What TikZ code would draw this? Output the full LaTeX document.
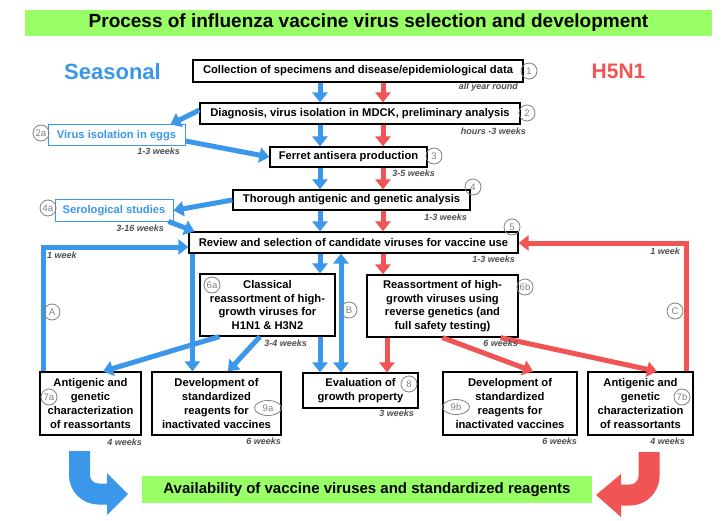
\documentclass[tikz,border=0pt]{standalone}
\usepackage{fontspec}
\setmainfont{Liberation Sans}
\usetikzlibrary{arrows.meta,shapes.geometric,calc}
\definecolor{sblue}{RGB}{59,151,234}
\definecolor{hred}{RGB}{240,84,84}
\definecolor{lgreen}{RGB}{153,255,102}
\definecolor{dgray}{RGB}{80,80,80}
\definecolor{cgray}{RGB}{130,130,130}
\begin{document}
\begin{tikzpicture}[x=1pt,y=-1pt,
 box/.style={draw=black, line width=1.2pt, fill=white, align=center, inner sep=0pt, font=\fontsize{11.2}{13.7}\selectfont\bfseries},
 bbox/.style={draw=sblue, line width=1pt, fill=white, inner sep=0pt, text=sblue, font=\fontsize{11.2}{13.7}\selectfont\bfseries},
 dur/.style={anchor=east, inner sep=0pt, text=dgray, font=\fontsize{9}{9}\selectfont\bfseries\itshape},
 num/.style={circle, draw=cgray, line width=0.8pt, minimum size=16pt, inner sep=0pt, text=cgray, font=\fontsize{9.5}{9.5}\selectfont},
 numl/.style={ellipse, draw=cgray, line width=0.8pt, minimum width=27pt, minimum height=15pt, inner sep=0pt, text=cgray, font=\fontsize{9.5}{9.5}\selectfont},
 barrow/.style={draw=sblue, line width=5pt, -{Triangle[width=15pt,length=10pt]}},
 rarrow/.style={draw=hred, line width=5pt, -{Triangle[width=15pt,length=10pt]}},
]
\useasboundingbox (0,0) rectangle (727,521);
\fill[white] (0,0) rectangle (727,521);

% title and headings
\node[fill=lgreen, minimum width=687pt, minimum height=26pt, inner sep=0pt, font=\fontsize{19}{20}\selectfont\bfseries] (title) at (368.5,23) {Process of influenza vaccine virus selection and development};
\node[text=sblue, inner sep=0pt, font=\fontsize{22}{22}\selectfont\bfseries] (seas) at (112.5,71.5) {Seasonal};
\node[text=hred, inner sep=0pt, font=\fontsize{21}{21}\selectfont\bfseries] (h5) at (618.5,71.5) {H5N1};

% boxes
\node[box, minimum width=330pt, minimum height=22pt] (b1) at (358,71) {Collection of specimens and disease/epidemiological data};
\node[box, minimum width=320pt, minimum height=21pt] (b2) at (360,113.5) {Diagnosis, virus isolation in MDCK, preliminary analysis};
\node[bbox, minimum width=137pt, minimum height=21pt] (b2a) at (116.5,135.5) {Virus isolation in eggs};
\node[box, minimum width=157pt, minimum height=20pt] (b3) at (348.5,157) {Ferret antisera production};
\node[box, minimum width=237pt, minimum height=20pt] (b4) at (351.5,200) {Thorough antigenic and genetic analysis};
\node[bbox, minimum width=118pt, minimum height=21pt] (b4a) at (114,210.5) {Serological studies};
\node[box, minimum width=329pt, minimum height=21pt] (b5) at (353.5,242.5) {Review and selection of candidate viruses for vaccine use};
\node[box, minimum width=135pt, minimum height=62pt] (b6a) at (267.5,305) {Classical\\reassortment of high-\\growth viruses for\\H1N1 \& H3N2};
\node[box, minimum width=151pt, minimum height=62pt] (b6b) at (442.5,306) {Reassortment of high-\\growth viruses using\\reverse genetics (and\\full safety testing)};
\node[box, minimum width=101pt, minimum height=63pt] (b7a) at (90.5,403.5) {Antigenic and\\genetic\\characterization\\of reassortants};
\node[box, minimum width=129pt, minimum height=63pt] (b9a) at (216.5,403.5) {Development of\\standardized\\reagents for\\inactivated vaccines};
\node[box, minimum width=115pt, minimum height=35pt] (b8) at (360.5,390.5) {Evaluation of\\growth property};
\node[box, minimum width=134pt, minimum height=63pt] (b9b) at (510,403.5) {Development of\\standardized\\reagents for\\inactivated vaccines};
\node[box, minimum width=105pt, minimum height=63pt] (b7b) at (640.5,403.5) {Antigenic and\\genetic\\characterization\\of reassortants};
\node[fill=lgreen, minimum width=450pt, minimum height=27pt, inner sep=0pt, font=\fontsize{15}{16}\selectfont\bfseries] (avail) at (367,489.5) {Availability of vaccine viruses and standardized reagents};

% x positions of vertical flows
\coordinate (bx) at (320,0);
\coordinate (rx) at (383,0);
\coordinate (bbx) at (341,0);
\coordinate (rx2) at (387,0);

% blue vertical flow
\draw[barrow] (b1.south -| bx) -- (b2.north -| bx);
\draw[barrow] (b2.south -| bx) -- (b3.north -| bx);
\draw[barrow] (b3.south -| bx) -- (b4.north -| bx);
\draw[barrow] (b4.south -| bx) -- (b5.north -| bx);
\draw[barrow] (b5.south -| bx) -- (b6a.north -| bx);
\draw[barrow] (b6a.south -| bx) -- (b8.north -| bx);
\draw[barrow, {Triangle[width=15pt,length=10pt]}-{Triangle[width=15pt,length=10pt]}] (b5.south -| bbx) -- (b8.north -| bbx);
% red vertical flow
\draw[rarrow] (b1.south -| rx) -- (b2.north -| rx);
\draw[rarrow] (b2.south -| rx) -- (b3.north -| rx);
\draw[rarrow] (b3.south -| rx) -- (b4.north -| rx);
\draw[rarrow] (b4.south -| rx) -- (b5.north -| rx);
\draw[rarrow] (b5.south -| rx) -- (b6b.north -| rx);
\draw[rarrow] (b6b.south -| rx2) -- (b8.north -| rx2);

% blue side branches
\draw[barrow] ([yshift=3.5pt]b2.west) -- ([xshift=-15pt]b2a.north east);
\draw[barrow] ([yshift=-5.5pt]b2a.east) -- (b3.west);
\draw[barrow] (b4.west) -- (b4a.east);
\draw[barrow] ([xshift=-5pt]b4a.south east) -- ([xshift=6pt]b5.north west);
\draw[barrow] ([xshift=4pt]b7a.north west) |- ([yshift=-4.5pt]b5.west);
\draw[barrow] ([xshift=4pt]b5.south west) -- ([xshift=4pt]b5.south west |- b9a.north);
\draw[barrow] ([xshift=20pt]b6a.south west) -- ([xshift=12.5pt]b7a.north);
\draw[barrow] ([xshift=-7.5pt]b6a.south) -- ([xshift=11.5pt]b9a.north);
% red side branches
\draw[rarrow] (b6b.south) -- ([xshift=23pt]b9b.north);
\draw[rarrow] ([xshift=-18pt]b6b.south east) -- ([xshift=16.5pt]b7b.north);
\draw[rarrow] ([xshift=-7pt]b7b.north east) |- ([yshift=-0.5pt]b5.east);

% big curved arrows
\draw[sblue, line width=21pt, rounded corners=19pt] (79.5,451) -- (79.5,494) -- (108,494);
\fill[sblue] (107,473) -- (128,494) -- (107,515) -- cycle;
\draw[hred, line width=21pt, rounded corners=19pt] (649,452) -- (649,495) -- (620,495);
\fill[hred] (621,474) -- (596,495) -- (621,517) -- cycle;

% step numbers
\node[num] (n1) at (529,71) {1};
\node[num] (n2) at (527,113) {2};
\node[num] (n2a) at (41,133) {2a};
\node[num] (n3) at (434,156) {3};
\node[num] (n4) at (473,187) {4};
\node[num] (n4a) at (48,208) {4a};
\node[num] (n5) at (512,227) {5};
\node[num] (n6a) at (212,285) {6a};
\node[num] (n6b) at (525,287) {6b};
\node[num] (nA) at (52,312) {A};
\node[num] (nB) at (349,310) {B};
\node[num] (nC) at (675,311) {C};
\node[num] (n7a) at (49,397) {7a};
\node[num] (n7b) at (682,397) {7b};
\node[num] (n8) at (409,384) {8};
\node[numl] (n9a) at (268,408) {9a};
\node[numl] (n9b) at (456,407) {9b};

% durations
\node[dur] (d1) at (518,87) {all year round};
\node[dur] (d2) at (526,131) {hours -3 weeks};
\node[dur] (d2a) at (180,151) {1-3 weeks};
\node[dur] (d3) at (435,173) {3-5 weeks};
\node[dur] (d4) at (467,217) {1-3 weeks};
\node[dur] (d4a) at (164,228) {3-16 weeks};
\node[dur] (d5) at (515,259) {1-3 weeks};
\node[dur, anchor=west] (dA) at (47,255) {1 week};
\node[dur] (dC) at (680,251) {1 week};
\node[dur] (d6a) at (307,343) {3-4 weeks};
\node[dur] (d6b) at (518,343) {6 weeks};
\node[dur] (d8) at (414,413) {3 weeks};
\node[dur] (d7a) at (142,442) {4 weeks};
\node[dur] (d9a) at (281,441) {6 weeks};
\node[dur] (d9b) at (577,441) {6 weeks};
\node[dur] (d7b) at (685,441) {4 weeks};
\end{tikzpicture}
\end{document}
